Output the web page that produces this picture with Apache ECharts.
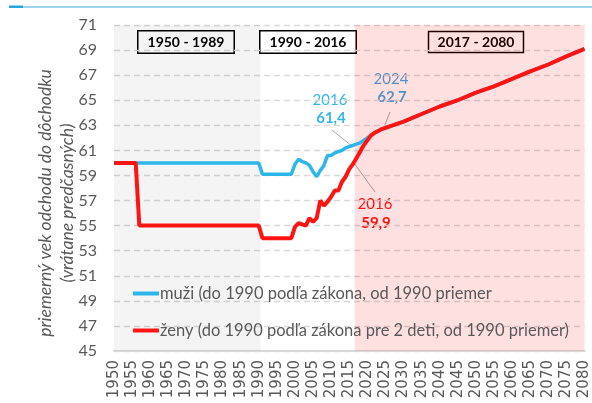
<!DOCTYPE html>
<html><head><meta charset="utf-8">
<script src="https://cdn.jsdelivr.net/npm/echarts@6/dist/echarts.min.js"></script>
<style>html,body{margin:0;padding:0;background:#fff}#c{width:592px;height:403px}</style>
</head><body><div id="c"></div>
<script>
// ---- data ----
const menYears   = [1950,1990,1991,1999,2000,2001,2002,2003,2004,2005,2006,2007,2008,2009,2010,2011,2012,2013,2014,2015,2016,2017,2018,2019,2020,2021,2022,2023,2024];
const menValues  = [60,60,59.1,59.1,59.9,60.3,60.1,60.0,59.8,59.3,58.9,59.4,59.8,60.6,60.6,60.8,60.9,61.0,61.2,61.3,61.4,61.5,61.6,61.8,62.0,62.2,62.4,62.55,62.7];
const womenYears = [1950,1956,1957,1990,1991,1999,2000,2001,2002,2003,2004,2005,2006,2007,2008,2009,2010,2011,2012,2013,2014,2015,2016,2017,2018,2019,2020,2021,2022,2023,2024];
const womenValues= [60,60,55,55,54,54,54.9,55.2,55.1,55.0,55.6,55.3,55.6,57.0,56.6,56.9,57.3,57.8,57.8,58.5,58.9,59.5,59.9,60.4,60.9,61.4,61.8,62.2,62.4,62.55,62.7];
const futureYears  = [2030,2035,2040,2045,2050,2055,2060,2065,2070,2075,2080];
const futureValues = [63.3,63.9,64.5,65.0,65.6,66.1,66.7,67.3,67.85,68.5,69.1];
const periods = ['1950 - 1989','1990 - 2016','2017 - 2080'];
const greyBand = [1950, 1990.5];
const pinkBand = [2016.5, 2080];
const menName = 'muži (do 1990 podľa zákona, od 1990 priemer';
const womenName = 'ženy (do 1990 podľa zákona pre 2 deti, od 1990 priemer)';
const yTitle = 'priemerný vek odchodu do dôchodku\n(vrátane predčasných)';

const pairs = (xs, ys) => xs.map((x, i) => [x, ys[i]]);
const menData = pairs(menYears.concat(futureYears), menValues.concat(futureValues));
const womenData = pairs(womenYears.concat(futureYears), womenValues.concat(futureValues));

const BLUE = '#2cb6ea', RED = '#ff1414', GREY = '#595959', LEAD = '#a6a6a6';
const F = 'Lato, "Open Sans", sans-serif';

const chart = echarts.init(document.getElementById('c'), null, {renderer: 'canvas'});
chart.setOption({
  animation: false,
  grid: {left: 114, right: 6, top: 25, bottom: 52, containLabel: false},
  xAxis: {
    type: 'value', min: 1950, max: 2080, interval: 5,
    axisLine: {show: true, lineStyle: {color: '#d9d9d9', width: 2}},
    axisTick: {show: false},
    splitLine: {show: false},
    axisLabel: {rotate: 90, margin: 9, color: GREY, fontSize: 15, fontFamily: '"DejaVu Sans", sans-serif', formatter: v => String(v)}
  },
  yAxis: {
    type: 'value', min: 45, max: 71, interval: 2,
    axisLine: {show: false}, axisTick: {show: false},
    splitLine: {show: true, lineStyle: {color: '#d9d9d9', type: [6, 4], width: 1.3}},
    axisLabel: {margin: 17, color: GREY, fontSize: 16, fontFamily: F}
  },
  legend: {
    orient: 'vertical', left: 128, top: 279, itemWidth: 26, itemHeight: 4, itemGap: 18,
    icon: 'rect', data: [menName, womenName],
    textStyle: {color: GREY, fontSize: 16.5, fontFamily: F, lineHeight: 19, padding: [0, 0, 0, -4]}
  },
  series: [
    {
      type: 'line', name: 'bands', data: [], z: 1, silent: true,
      markArea: {silent: true, itemStyle: {borderWidth: 0},
        data: [
          [{xAxis: greyBand[0], itemStyle: {color: 'rgba(0,0,0,0.045)'}}, {xAxis: greyBand[1]}],
          [{xAxis: pinkBand[0], itemStyle: {color: 'rgba(255,0,0,0.12)'}}, {xAxis: pinkBand[1]}]
        ]}
    },
    {type: 'line', name: menName, data: menData, showSymbol: false, z: 3,
     lineStyle: {color: BLUE, width: 3.5}, itemStyle: {color: BLUE}},
    {type: 'line', name: womenName, data: womenData, showSymbol: false, z: 4,
     lineStyle: {color: RED, width: 4}, itemStyle: {color: RED}}
  ],
  graphic: [
    {type: 'rect', shape: {x: 9, y: 6.5, width: 583, height: 1}, style: {fill: '#3aa9de'}},
    {type: 'rect', shape: {x: 9, y: 5.5, width: 14, height: 2.5}, style: {fill: '#2aa6de'}},
    {type: 'text', x: 186, y: 42, style: {text: periods[0], font: 'bold 14px ' + F, fill: '#000', align: 'center', verticalAlign: 'middle', backgroundColor: '#fff', borderColor: '#000', borderWidth: 1.5, padding: [4, 9, 3, 9]}},
    {type: 'text', x: 308, y: 42, style: {text: periods[1], font: 'bold 14px ' + F, fill: '#000', align: 'center', verticalAlign: 'middle', backgroundColor: '#fff', borderColor: '#000', borderWidth: 1.5, padding: [4, 9, 3, 9]}},
    {type: 'text', x: 476, y: 42, style: {text: periods[2], font: 'bold 14px ' + F, fill: '#000', align: 'center', verticalAlign: 'middle', borderColor: '#000', borderWidth: 1.5, padding: [4, 9, 3, 9]}},
    // y-axis title
    {type: 'text', x: 56, y: 203, rotation: Math.PI / 2, style: {text: yTitle, font: 'italic 17.5px ' + F, fill: GREY, align: 'center', verticalAlign: 'middle', lineHeight: 22}},
    // annotations
    {type: 'text', x: 330, y: 100, style: {text: '2016', font: '15px ' + F, fill: '#35b6e6', align: 'center', verticalAlign: 'middle'}},
    {type: 'text', x: 331, y: 118, style: {text: '61,4', font: 'bold 15px ' + F, fill: '#35b6e6', align: 'center', verticalAlign: 'middle'}},
    {type: 'line', shape: {x1: 332, y1: 130, x2: 353, y2: 147}, style: {stroke: LEAD, lineWidth: 1}},
    {type: 'text', x: 391, y: 79, style: {text: '2024', font: '15px ' + F, fill: '#3fa6de', align: 'center', verticalAlign: 'middle'}},
    {type: 'text', x: 392, y: 97, style: {text: '62,7', font: 'bold 15px ' + F, fill: '#3fa6de', align: 'center', verticalAlign: 'middle'}},
    {type: 'line', shape: {x1: 390, y1: 112, x2: 383, y2: 130}, style: {stroke: LEAD, lineWidth: 1}},
    {type: 'text', x: 375, y: 204, style: {text: '2016', font: '15px ' + F, fill: RED, align: 'center', verticalAlign: 'middle'}},
    {type: 'text', x: 376, y: 223, style: {text: '59,9', font: 'bold 15px ' + F, fill: RED, align: 'center', verticalAlign: 'middle'}},
    {type: 'line', shape: {x1: 354, y1: 163, x2: 375, y2: 192}, style: {stroke: LEAD, lineWidth: 1}}
  ]
});
</script></body></html>
